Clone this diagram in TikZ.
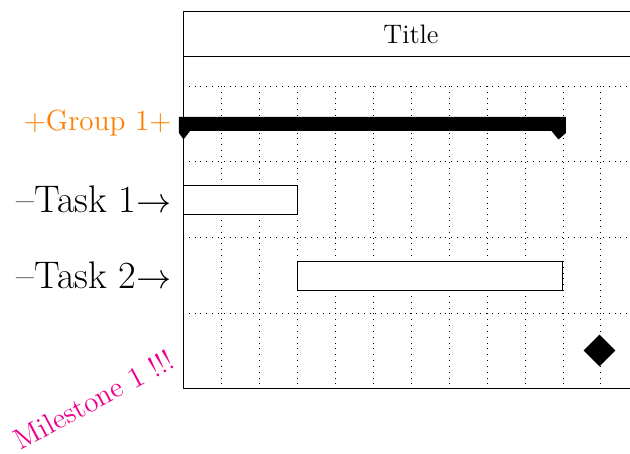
\documentclass[tikz,border=0pt]{standalone}
\usepackage{fontspec}
\usetikzlibrary{shapes.geometric}
\definecolor{grouporange}{RGB}{255,128,0}
\definecolor{milepink}{RGB}{236,0,140}
\begin{document}
\begin{tikzpicture}[x=0.4115pt,y=-0.4115pt,
  frame/.style={draw=black,line width=0.4pt},
  gridline/.style={dotted,line width=0.4pt},
  taskbar/.style={draw=black,fill=white,line width=0.4pt},
  lbl/.style={anchor=base east,inner sep=0pt}]
\clip (0,0) rectangle (630,454);
% grid
\foreach \x in {221,259,297,335,373,411,449,487,525,563,600}
  \draw[gridline] (\x,86) -- (\x,388);
\foreach \y in {86,161,237,313}
  \draw[gridline] (183,\y) -- (640,\y);
% title
\draw[frame] (640,11) -- (183,11) -- (183,388) -- (640,388);
\draw[frame] (183,56) -- (640,56);
\node[font=\fontsize{11}{13}\selectfont] (title) at (411,34) {Title};
% group bar
\fill (179,117) -- (566,117) -- (566,133) -- (558.5,139.5) -- (551.5,131)
  -- (190,131) -- (183.5,139.5) -- (179,133) -- cycle;
\node[lbl,text=grouporange,font=\large] (g1) at (172,131) {+Group 1+};
% tasks
\node[taskbar,rectangle,minimum width=114*0.4115pt,minimum height=29*0.4115pt,inner sep=0pt,anchor=north west] (t1) at (183,185) {};
\node[taskbar,rectangle,minimum width=265*0.4115pt,minimum height=29*0.4115pt,inner sep=0pt,anchor=north west] (t2) at (297,261) {};
\node[lbl,font=\fontsize{15.8}{19}\selectfont] (l1) at (172,213) {--Task 1$\rightarrow$};
\node[lbl,font=\fontsize{15.8}{19}\selectfont] (l2) at (172,289) {--Task 2$\rightarrow$};
% milestone
\node[diamond,fill=black,inner sep=0pt,minimum width=32*0.4115pt,minimum height=32*0.4115pt] (m1) at (599.5,350.5) {};
\node[lbl,text=milepink,font=\fontsize{12}{14}\selectfont,rotate=28] (ml) at (177,367) {Milestone 1 !!!};
\end{tikzpicture}
\end{document}
